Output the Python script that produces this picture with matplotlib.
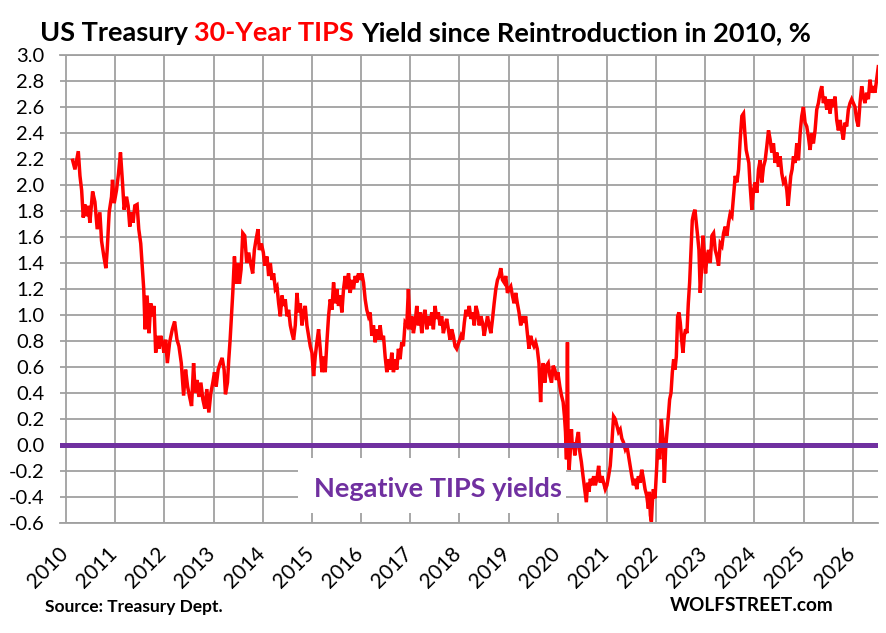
import matplotlib
matplotlib.use("Agg")
import matplotlib.pyplot as plt
import matplotlib.transforms as mtransforms
from matplotlib.patches import Rectangle

plt.rcParams["font.family"] = ["Lato", "DejaVu Sans"]
plt.rcParams["axes.unicode_minus"] = False

# ---------------------------------------------------------------------------
# 30-year TIPS yield, % (decimal years)
# ---------------------------------------------------------------------------

years_2010_2013 = [
    2010.135, 2010.182, 2010.250, 2010.284, 2010.318, 2010.351, 2010.385, 2010.419, 2010.453, 2010.486,
    2010.541, 2010.588, 2010.635, 2010.689, 2010.723, 2010.770, 2010.811, 2010.838, 2010.878, 2010.926,
    2010.946, 2010.980, 2011.027, 2011.068, 2011.108, 2011.149, 2011.182, 2011.230, 2011.264, 2011.297,
    2011.331, 2011.365, 2011.399, 2011.446, 2011.480, 2011.520, 2011.554, 2011.581, 2011.608, 2011.649,
    2011.689, 2011.723, 2011.757, 2011.791, 2011.824, 2011.858, 2011.892, 2011.926, 2011.959, 2011.993,
    2012.027, 2012.061, 2012.108, 2012.162, 2012.209, 2012.257, 2012.297, 2012.345, 2012.392, 2012.432,
    2012.473, 2012.514, 2012.554, 2012.595, 2012.628, 2012.662, 2012.703, 2012.743, 2012.784, 2012.824,
    2012.865, 2012.905, 2012.946, 2012.986, 2013.020, 2013.054, 2013.095, 2013.135, 2013.176, 2013.216,
    2013.243, 2013.284, 2013.311, 2013.338, 2013.365, 2013.392, 2013.426, 2013.459, 2013.493, 2013.527,
    2013.561, 2013.595, 2013.635, 2013.676, 2013.716, 2013.764, 2013.797, 2013.831, 2013.865, 2013.905,
    2013.932, 2013.973, 2014.014,
]
yield_2010_2013 = [
    2.19, 2.12, 2.26, 2.07, 1.96, 1.75, 1.85, 1.76, 1.84, 1.71,
    1.95, 1.87, 1.66, 1.79, 1.57, 1.45, 1.36, 1.50, 1.79, 1.91,
    2.04, 1.86, 1.96, 2.09, 2.25, 2.02, 1.81, 1.91, 1.84, 1.68,
    1.79, 1.71, 1.84, 1.85, 1.66, 1.55, 1.35, 1.20, 0.89, 1.15,
    0.86, 1.09, 0.99, 1.07, 0.71, 0.84, 0.74, 0.84, 0.79, 0.71,
    0.81, 0.63, 0.79, 0.89, 0.95, 0.81, 0.76, 0.63, 0.38, 0.58,
    0.45, 0.37, 0.30, 0.63, 0.40, 0.50, 0.37, 0.48, 0.35, 0.28,
    0.43, 0.25, 0.40, 0.48, 0.56, 0.45, 0.58, 0.63, 0.67, 0.58,
    0.39, 0.48, 0.66, 0.81, 0.99, 1.17, 1.45, 1.24, 1.40, 1.24,
    1.35, 1.63, 1.61, 1.40, 1.48, 1.38, 1.32, 1.50, 1.58, 1.66,
    1.50, 1.55, 1.48,
]

years_2014_2017 = [
    2014.041, 2014.088, 2014.122, 2014.156, 2014.190, 2014.223, 2014.257, 2014.291, 2014.325, 2014.359,
    2014.393, 2014.426, 2014.460, 2014.494, 2014.528, 2014.562, 2014.596, 2014.629, 2014.663, 2014.697,
    2014.731, 2014.765, 2014.799, 2014.832, 2014.866, 2014.900, 2014.934, 2014.968, 2015.002, 2015.036,
    2015.069, 2015.103, 2015.137, 2015.171, 2015.205, 2015.239, 2015.272, 2015.306, 2015.340, 2015.374,
    2015.408, 2015.442, 2015.475, 2015.509, 2015.543, 2015.577, 2015.611, 2015.645, 2015.679, 2015.712,
    2015.746, 2015.780, 2015.814, 2015.848, 2015.882, 2015.915, 2015.949, 2015.983, 2016.017, 2016.051,
    2016.085, 2016.118, 2016.152, 2016.186, 2016.220, 2016.254, 2016.288, 2016.321, 2016.355, 2016.389,
    2016.423, 2016.457, 2016.491, 2016.525, 2016.558, 2016.592, 2016.626, 2016.660, 2016.694, 2016.728,
    2016.761, 2016.795, 2016.829, 2016.863, 2016.897, 2016.931, 2016.964, 2016.998, 2017.032, 2017.066,
    2017.100, 2017.134, 2017.168, 2017.201, 2017.235, 2017.269, 2017.303, 2017.337, 2017.371, 2017.404,
    2017.438, 2017.472, 2017.506, 2017.540, 2017.574, 2017.607, 2017.641, 2017.675, 2017.709, 2017.743,
    2017.777, 2017.810, 2017.844, 2017.878, 2017.912, 2017.946,
]
yield_2014_2017 = [
    1.38, 1.45, 1.30, 1.40, 1.27, 1.32, 1.20, 1.22, 1.09, 0.99,
    1.15, 1.07, 1.12, 0.99, 1.04, 0.92, 0.86, 0.81, 0.92, 1.17,
    1.02, 1.09, 0.92, 1.02, 1.07, 0.92, 0.84, 0.76, 0.71, 0.53,
    0.68, 0.79, 0.89, 0.74, 0.56, 0.68, 0.56, 0.79, 0.99, 1.12,
    1.04, 1.25, 1.09, 1.20, 1.07, 1.15, 1.02, 1.20, 1.30, 1.20,
    1.32, 1.17, 1.27, 1.20, 1.30, 1.25, 1.32, 1.27, 1.32, 1.25,
    1.12, 1.04, 0.99, 1.02, 0.84, 0.92, 0.79, 0.89, 0.81, 0.92,
    0.81, 0.84, 0.68, 0.56, 0.66, 0.58, 0.71, 0.56, 0.66, 0.58,
    0.74, 0.66, 0.79, 0.76, 0.94, 0.92, 1.20, 0.89, 0.99, 0.86,
    0.94, 1.07, 0.92, 1.02, 0.86, 0.99, 1.04, 0.89, 0.99, 0.92,
    1.02, 0.89, 1.07, 0.97, 1.02, 0.92, 0.99, 0.86, 0.92, 0.97,
    0.89, 0.81, 0.89, 0.84, 0.76, 0.74,
]

years_2018_2021 = [
    2018.034, 2018.067, 2018.101, 2018.135, 2018.169, 2018.202, 2018.236, 2018.270, 2018.304, 2018.337,
    2018.371, 2018.405, 2018.438, 2018.472, 2018.506, 2018.540, 2018.573, 2018.607, 2018.641, 2018.675,
    2018.708, 2018.742, 2018.776, 2018.809, 2018.843, 2018.877, 2018.911, 2018.944, 2018.978, 2019.012,
    2019.046, 2019.079, 2019.113, 2019.147, 2019.180, 2019.214, 2019.248, 2019.282, 2019.315, 2019.349,
    2019.383, 2019.417, 2019.450, 2019.484, 2019.518, 2019.551, 2019.585, 2019.619, 2019.653, 2019.673,
    2019.707, 2019.740, 2019.774, 2019.808, 2019.842, 2019.875, 2019.909, 2019.943, 2019.976, 2020.003,
    2020.044, 2020.078, 2020.111, 2020.138, 2020.159, 2020.179, 2020.199, 2020.212, 2020.233, 2020.260,
    2020.280, 2020.300, 2020.327, 2020.347, 2020.368, 2020.395, 2020.422, 2020.449, 2020.482, 2020.516,
    2020.550, 2020.583, 2020.610, 2020.637, 2020.664, 2020.698, 2020.732, 2020.766, 2020.799, 2020.833,
    2020.867, 2020.901, 2020.934, 2020.968, 2021.002, 2021.035, 2021.069, 2021.103, 2021.137, 2021.170,
    2021.204, 2021.238, 2021.272, 2021.305, 2021.339, 2021.373, 2021.406, 2021.440, 2021.474, 2021.508,
    2021.541, 2021.575, 2021.609, 2021.642, 2021.676, 2021.710, 2021.744, 2021.777, 2021.811, 2021.845,
    2021.865, 2021.885, 2021.906, 2021.926, 2021.946, 2021.980,
]
yield_2018_2021 = [
    0.84, 0.81, 0.94, 1.04, 0.99, 1.07, 0.97, 1.02, 0.92, 1.07,
    1.02, 0.92, 0.99, 0.94, 0.84, 0.92, 0.99, 0.92, 0.86, 0.97,
    1.09, 1.20, 1.27, 1.30, 1.36, 1.27, 1.25, 1.30, 1.17, 1.20,
    1.22, 1.15, 1.09, 1.17, 1.09, 1.02, 0.92, 0.99, 0.94, 0.99,
    0.86, 0.74, 0.84, 0.79, 0.76, 0.79, 0.74, 0.63, 0.33, 0.53,
    0.63, 0.48, 0.61, 0.63, 0.53, 0.48, 0.61, 0.58, 0.50, 0.56,
    0.45, 0.38, 0.33, 0.22, 0.10, -0.11, 0.79, -0.03, -0.19, -0.03,
    0.12, -0.03, 0.02, -0.08, -0.03, 0.05, 0.10, -0.05, -0.13, -0.24,
    -0.34, -0.44, -0.29, -0.36, -0.26, -0.31, -0.24, -0.31, -0.26, -0.16,
    -0.29, -0.24, -0.29, -0.34, -0.31, -0.24, -0.16, 0.02, 0.22, 0.20,
    0.15, 0.10, 0.12, 0.05, 0.02, -0.03, 0.00, -0.08, -0.16, -0.24,
    -0.31, -0.26, -0.34, -0.24, -0.29, -0.19, -0.26, -0.34, -0.39, -0.49,
    -0.36, -0.54, -0.59, -0.44, -0.34, -0.41,
]

years_2022_2026 = [
    2022.034, 2022.074, 2022.108, 2022.142, 2022.169, 2022.196, 2022.223, 2022.257, 2022.277, 2022.305,
    2022.332, 2022.359, 2022.386, 2022.413, 2022.440, 2022.467, 2022.494, 2022.521, 2022.548, 2022.575,
    2022.602, 2022.629, 2022.657, 2022.684, 2022.711, 2022.738, 2022.765, 2022.792, 2022.819, 2022.846,
    2022.873, 2022.900, 2022.927, 2022.954, 2022.981, 2023.008, 2023.036, 2023.069, 2023.103, 2023.137,
    2023.171, 2023.205, 2023.239, 2023.272, 2023.306, 2023.340, 2023.374, 2023.408, 2023.442, 2023.475,
    2023.509, 2023.543, 2023.577, 2023.611, 2023.645, 2023.679, 2023.712, 2023.746, 2023.780, 2023.807,
    2023.834, 2023.861, 2023.888, 2023.915, 2023.949, 2023.983, 2024.017, 2024.051, 2024.085, 2024.118,
    2024.152, 2024.186, 2024.220, 2024.254, 2024.288, 2024.321, 2024.355, 2024.389, 2024.423, 2024.457,
    2024.491, 2024.525, 2024.558, 2024.592, 2024.626, 2024.660, 2024.687, 2024.714, 2024.741, 2024.768,
    2024.795, 2024.829, 2024.863, 2024.897, 2024.931, 2024.964, 2024.998, 2025.032, 2025.066, 2025.100,
    2025.134, 2025.168, 2025.201, 2025.235, 2025.269, 2025.303, 2025.337, 2025.371, 2025.404, 2025.438,
    2025.472, 2025.506, 2025.540, 2025.574, 2025.607, 2025.641, 2025.675, 2025.709, 2025.743, 2025.777,
    2025.810, 2025.844, 2025.878, 2025.912, 2025.946, 2025.980, 2026.014, 2026.047, 2026.081, 2026.115,
    2026.149, 2026.183, 2026.217, 2026.250, 2026.284, 2026.318, 2026.352, 2026.386, 2026.420, 2026.453,
    2026.487, 2026.521,
]
yield_2022_2026 = [
    -0.03, -0.11, 0.20, 0.05, -0.29, -0.03, 0.10, 0.25, 0.35, 0.40,
    0.56, 0.66, 0.58, 0.68, 0.99, 1.02, 0.94, 0.81, 0.71, 0.84,
    0.89, 0.86, 1.09, 1.25, 1.50, 1.73, 1.78, 1.81, 1.71, 1.61,
    1.50, 1.17, 1.35, 1.61, 1.48, 1.32, 1.45, 1.50, 1.40, 1.61,
    1.63, 1.50, 1.45, 1.38, 1.55, 1.53, 1.63, 1.68, 1.61, 1.71,
    1.78, 1.76, 1.91, 2.07, 2.02, 2.12, 2.35, 2.53, 2.55, 2.40,
    2.27, 2.22, 2.17, 1.99, 1.81, 1.96, 2.02, 1.94, 2.12, 2.19,
    2.02, 2.14, 2.19, 2.30, 2.42, 2.35, 2.25, 2.32, 2.17, 2.25,
    2.14, 2.22, 2.09, 2.02, 2.04, 1.96, 1.84, 1.96, 2.07, 2.12,
    2.22, 2.17, 2.32, 2.19, 2.40, 2.53, 2.60, 2.48, 2.45, 2.37,
    2.27, 2.40, 2.32, 2.42, 2.58, 2.63, 2.71, 2.76, 2.63, 2.68,
    2.58, 2.66, 2.55, 2.66, 2.60, 2.68, 2.50, 2.42, 2.50, 2.42,
    2.35, 2.48, 2.45, 2.58, 2.63, 2.66, 2.63, 2.60, 2.50, 2.45,
    2.63, 2.76, 2.68, 2.63, 2.71, 2.66, 2.81, 2.71, 2.76, 2.71,
    2.81, 2.91,
]

years = years_2010_2013 + years_2014_2017 + years_2018_2021 + years_2022_2026
yields = yield_2010_2013 + yield_2014_2017 + yield_2018_2021 + yield_2022_2026
assert len(years) == len(yields)

year_ticks = [2010, 2011, 2012, 2013, 2014, 2015, 2016, 2017, 2018,
              2019, 2020, 2021, 2022, 2023, 2024, 2025, 2026]
year_labels = [str(y) for y in year_ticks]
yield_ticks = [-0.6, -0.4, -0.2, 0.0, 0.2, 0.4, 0.6, 0.8, 1.0, 1.2,
               1.4, 1.6, 1.8, 2.0, 2.2, 2.4, 2.6, 2.8, 3.0]
yield_labels = [f"{v:.1f}" for v in yield_ticks]

title_parts = [
    ("US Treasury ", "black"),
    ("30-Year TIPS", "#FF0000"),
    (" Yield since Reintroduction in 2010, %", "black"),
]

RED = "#FF0000"
PURPLE = "#7030A0"
GRID = "#A0A0A0"

# ---------------------------------------------------------------------------
# Figure
# ---------------------------------------------------------------------------

W, H, DPI = 886, 633, 100
fig = plt.figure(figsize=(W / DPI, H / DPI), dpi=DPI, facecolor="white")
renderer = fig.canvas.get_renderer()
px = mtransforms.IdentityTransform()


def px_rect(left, top, right, bottom):
    return [left / W, 1 - bottom / H, (right - left) / W, (bottom - top) / H]


def fit_width(t, target):
    w = t.get_window_extent(renderer).width
    t.set_fontsize(t.get_fontsize() * target / w)


ax = fig.add_axes(px_rect(60, 55, 878, 523))
ax.set_xlim(2009.878, 2026.515)
ax.set_ylim(-0.6, 3.0)

ax.plot(years, yields, color=RED, lw=2.5, zorder=4, solid_joinstyle="miter")
ax.axhline(0.0, color=PURPLE, lw=3.6, zorder=5)

# white label box that hides the grid under the text
ax.add_patch(Rectangle((2014.72, -0.523), 5.45, 0.423, facecolor="white",
                       edgecolor="none", zorder=2.5))
neg = ax.text(2017.555, -0.40, "Negative TIPS yields", color=PURPLE,
              fontweight="bold", fontsize=20, ha="center", va="baseline", zorder=6)
fit_width(neg, 249)

ax.set_xticks(year_ticks)
ax.set_xticklabels(year_labels, rotation=45, ha="right", va="top", fontsize=15)
ax.set_yticks(yield_ticks)
ax.set_yticklabels(yield_labels, fontsize=14.5)
ax.tick_params(axis="both", length=0, colors="black")
ax.tick_params(axis="x", pad=15)
ax.tick_params(axis="y", pad=11)
shift = mtransforms.ScaledTranslation(6 / DPI, 0, fig.dpi_scale_trans)
for lab in ax.get_xticklabels():
    lab.set_transform(lab.get_transform() + shift)

ax.grid(True, color=GRID, lw=1.3)
ax.set_axisbelow(True)
for side in ("left", "right"):
    ax.spines[side].set_visible(False)
for side in ("top", "bottom"):
    ax.spines[side].set_color(GRID)
    ax.spines[side].set_linewidth(1.3)

# title in three colour runs
full = fig.text(40, H - 41, "".join(s for s, _ in title_parts), fontweight="bold",
                fontsize=20, transform=px, va="baseline")
fit_width(full, 774)
tsize = full.get_fontsize()
full.remove()


def ink_width(s):
    t = fig.text(0, 0, s, fontweight="bold", fontsize=tsize, transform=px)
    w = t.get_window_extent(renderer).width
    t.remove()
    return w


prefix = ""
for s, c in title_parts:
    if prefix:
        offset = ink_width(prefix + s + "H") - ink_width(s.strip() + "H")
    else:
        offset = 0
    fig.text(40 + offset, H - 41, s.strip(), color=c, fontweight="bold",
             fontsize=tsize, transform=px, va="baseline")
    prefix += s

src = fig.text(45, H - 612, "Source: Treasury Dept.", fontweight="bold",
               fontsize=11, transform=px, va="baseline")
fit_width(src, 177)
wolf = fig.text(670, H - 611, "WOLFSTREET.com", fontweight="bold",
                fontsize=14, transform=px, va="baseline")
fit_width(wolf, 165)

fig.savefig("out.png", dpi=DPI, facecolor="white")
